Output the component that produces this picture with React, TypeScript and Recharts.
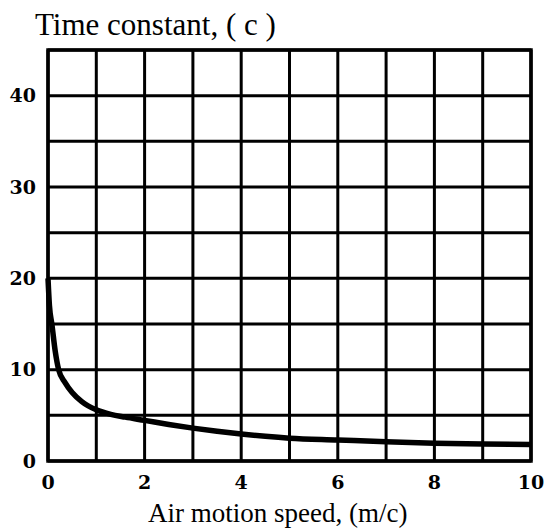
import React from "react"
import { LineChart, Line, XAxis, YAxis, CartesianGrid, ReferenceArea } from "recharts"

// Air motion speed (m/c) and time constant (c)
const speeds = [0, 0.03, 0.08, 0.15, 0.22, 0.35, 0.5, 0.7, 1.0, 1.3, 1.6, 2, 2.5, 3, 3.5, 4, 4.5, 5, 6, 7, 8, 9, 10]
const timeConstants = [20, 17, 15, 12, 10, 8.6, 7.5, 6.5, 5.6, 5.1, 4.8, 4.45, 4.0, 3.6, 3.25, 2.95, 2.7, 2.5, 2.3, 2.1, 1.95, 1.85, 1.8]

const xTicks = [0, 1, 2, 3, 4, 5, 6, 7, 8, 9, 10]
const yTicks = [0, 5, 10, 15, 20, 25, 30, 35, 40, 45]

const data = speeds.map((s, i) => ({ speed: s, tau: timeConstants[i] }))

const tickStyle = {
    fontFamily: "'DejaVu Serif', serif",
    fontWeight: 700,
    fontSize: 19,
    fill: "#000",
}

const titleFont = {
    position: "absolute" as const,
    fontFamily: "'Liberation Serif', serif",
    whiteSpace: "nowrap" as const,
    color: "#000",
}

export default function App() {
    return (
        <div style={{ position: "absolute", left: 0, top: 0, width: 547, height: 532, background: "#fff" }}>
            <div style={{ ...titleFont, left: 35, top: 9, fontSize: 31, lineHeight: "31px" }}>
                Time constant, ( c )
            </div>
            <LineChart
                width={547}
                height={532}
                data={data}
                margin={{ top: 50, right: 16, left: 0, bottom: 0 }}
            >
                <CartesianGrid stroke="#000" strokeWidth={3} horizontalValues={yTicks} verticalValues={xTicks} />
                <XAxis
                    type="number"
                    dataKey="speed"
                    domain={[0, 10]}
                    ticks={xTicks}
                    interval={0}
                    height={71}
                    tickLine={false}
                    axisLine={false}
                    tickMargin={9}
                    tick={tickStyle}
                    tickFormatter={(v) => (v % 2 === 0 ? String(v) : "")}
                />
                <YAxis
                    type="number"
                    domain={[0, 45]}
                    ticks={yTicks}
                    interval={0}
                    width={48}
                    tickLine={false}
                    axisLine={false}
                    tickMargin={6}
                    tick={tickStyle}
                    tickFormatter={(v) => (v % 10 === 0 && v < 45 ? String(v) : "")}
                />
                <ReferenceArea x1={0} x2={10} y1={0} y2={45} fill="none" stroke="#000" strokeWidth={3.5} ifOverflow="visible" />
                <Line
                    type="monotone"
                    dataKey="tau"
                    stroke="#000"
                    strokeWidth={5.5}
                    dot={false}
                    isAnimationActive={false}
                />
            </LineChart>
            <div style={{ ...titleFont, left: 148, top: 500, fontSize: 27, lineHeight: "27px" }}>
                Air motion speed, (m/c)
            </div>
        </div>
    )
}
